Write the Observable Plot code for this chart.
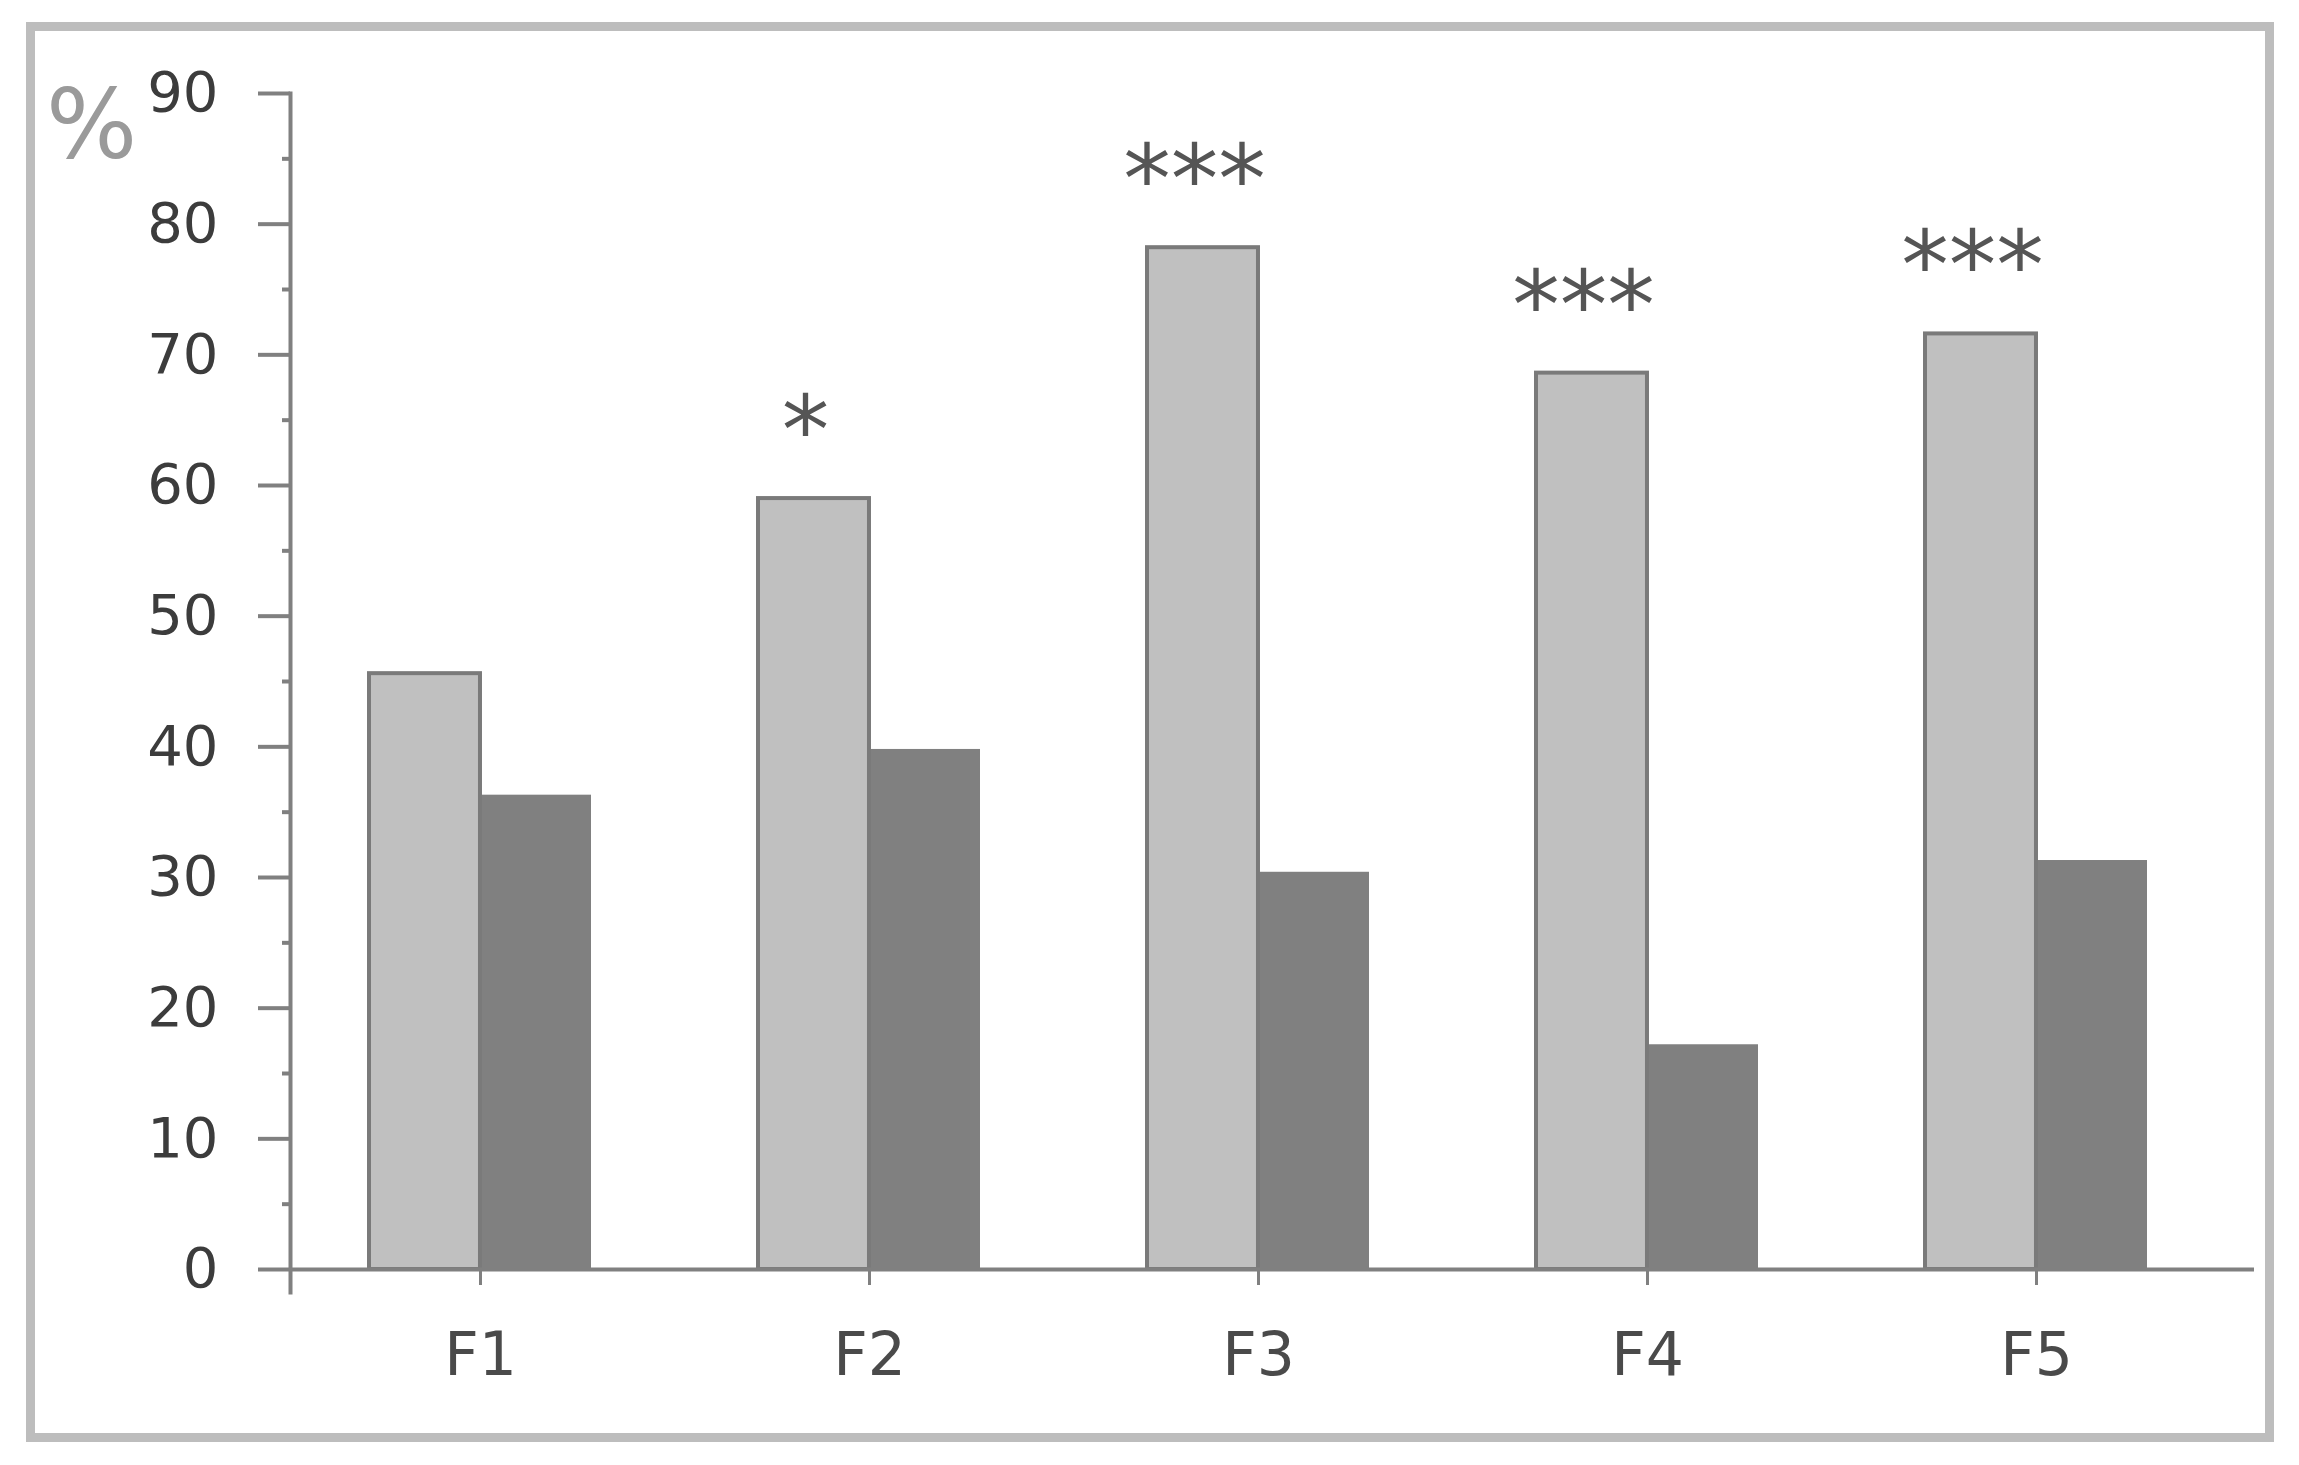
<!DOCTYPE html>
<html>
<head>
<meta charset="utf-8">
<script src="https://cdn.jsdelivr.net/npm/d3@7"></script>
<script src="https://cdn.jsdelivr.net/npm/@observablehq/plot@0.6"></script>
<style>
html, body { margin: 0; padding: 0; background: #fff; }
#wrap { position: relative; width: 2299px; height: 1465px; overflow: hidden; background: #fff; }
#border { position: absolute; left: 26px; top: 22px; width: 2248px; height: 1420px; box-sizing: border-box; border: 9px solid #bdbdbd; }
#chart { position: absolute; left: 0; top: 0; }
</style>
</head>
<body>
<div id="wrap"><div id="border"></div><div id="chart"></div></div>
<script>
// ---- data ----
const categories = ["F1", "F2", "F3", "F4", "F5"];
const seriesLight = [45.6, 59.0, 78.2, 68.6, 71.6];
const seriesDark = [36.3, 39.8, 30.4, 17.2, 31.3];
const significance = ["", "*", "***", "***", "***"];
const yTicks = [0, 10, 20, 30, 40, 50, 60, 70, 80, 90];
const yMinorTicks = [5, 15, 25, 35, 45, 55, 65, 75, 85];
const yUnit = "%";

const rows = categories.map((c, i) => ({category: c, light: seriesLight[i], dark: seriesDark[i], sig: significance[i]}));

const W = 2299, H = 1465;
const marginLeft = 290, marginRight = 45, marginTop = 93, marginBottom = 173;
const xOpts = {type: "band", domain: categories, paddingInner: 0.43, paddingOuter: 0.236, align: 0.424};
const xs = Plot.scale({x: {...xOpts, range: [marginLeft, W - marginRight]}});
const half = xs.bandwidth / 2;

const axisGray = "#808080";
const font = "DejaVu Sans, Verdana, sans-serif";

const chart = Plot.plot({
  width: W,
  height: H,
  marginLeft, marginRight, marginTop, marginBottom,
  style: {fontFamily: font, background: "transparent", overflow: "visible"},
  x: {...xOpts, label: null},
  y: {domain: [-1.76, 90], label: null},
  marks: [
    Plot.barY(rows, {x: "category", y: "dark", fill: "#808080", insetLeft: half}),
    Plot.barY(rows, {x: "category", y: "light", fill: "#c0c0c0", stroke: "#7a7a7a", strokeWidth: 4, insetRight: half}),
    Plot.ruleY([0], {stroke: axisGray, strokeWidth: 4}),
    Plot.frame({anchor: "left", stroke: axisGray, strokeWidth: 4}),
    Plot.axisY({ticks: yMinorTicks, tickSize: 8, tickFormat: () => "", stroke: axisGray, strokeWidth: 4, label: null}),
    Plot.axisY({ticks: yTicks, tickSize: 32, tickPadding: 40, fontSize: 56, fill: "#3c3c3c", stroke: axisGray, strokeWidth: 4, label: null}),
    Plot.axisX({tickSize: 16, dy: -23, tickFormat: () => "", stroke: axisGray, strokeWidth: 3, label: null}),
    Plot.axisX({tickSize: 0, tickPadding: 40, fontSize: 60, fill: "#4a4a4a", label: null}),
    Plot.text(rows.filter(d => d.sig), {x: "category", y: "light", text: "sig", dx: -64, dy: -66, fontSize: 95, fill: "#555", letterSpacing: "-6px"}),
    Plot.text([yUnit], {frameAnchor: "top-left", textAnchor: "middle", lineAnchor: "middle", dx: -199, dy: 34, fontSize: 96, fill: "#9a9a9a"})
  ]
});
document.getElementById("chart").appendChild(chart);
</script>
</body>
</html>
